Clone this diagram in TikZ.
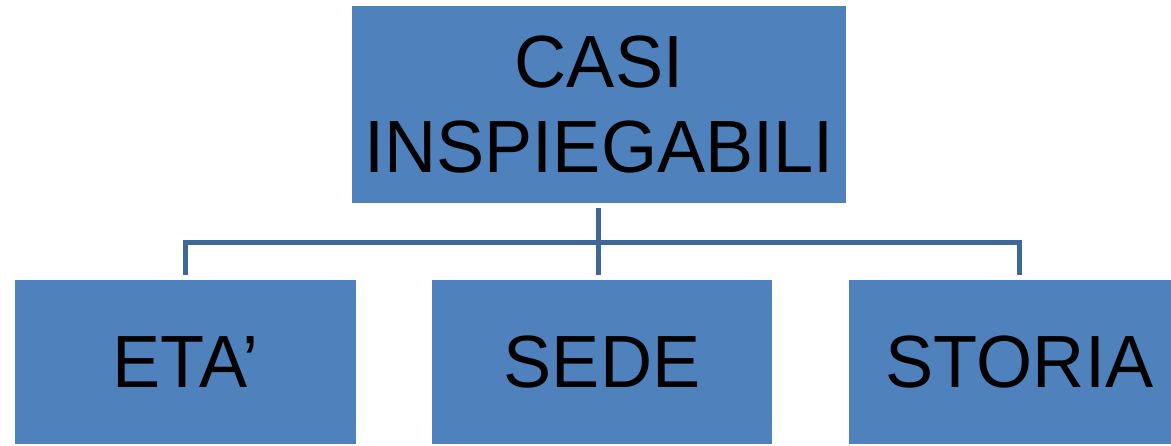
\documentclass[tikz,border=0pt]{standalone}
\usepackage{fontspec}
\setmainfont[FakeStretch=0.975]{Liberation Sans}
\definecolor{boxblue}{RGB}{79,129,189}
\definecolor{lineblue}{RGB}{62,104,154}
\begin{document}
\begin{tikzpicture}[x=1pt,y=-1pt,
  box/.style={fill=boxblue,draw=none,inner sep=0pt,align=center,
    font=\fontsize{74}{85}\selectfont, text=black},
  conn/.style={draw=lineblue,line width=5pt}]
\clip (0,0) rectangle (1171,445);
\fill[white] (0,0) rectangle (1171,445);
\node[box,minimum width=494pt,minimum height=197pt] (top) at (599,104.5) {CASI\\INSPIEGABILI};
\node[box,minimum width=341pt,minimum height=164pt] (eta) at (185.5,362) {ETA’};
\node[box,minimum width=340pt,minimum height=164pt] (sede) at (602,362) {SEDE};
\node[box,minimum width=341pt,minimum height=164pt] (storia) at (1019.5,362) {STORIA};
\coordinate (hub) at (598,242);
\coordinate (hl) at (185,242);
\coordinate (hr) at (1019,242);
\draw[conn] (598,208) -- (598,275);
\draw[conn,line join=miter] (185,275) -- (hl) -- (hr) -- (1019,275);
\end{tikzpicture}
\end{document}
